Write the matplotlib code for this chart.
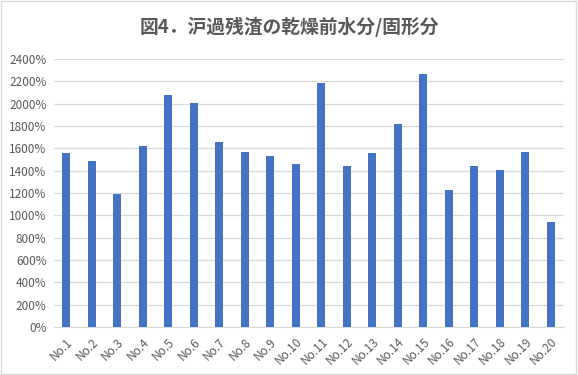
import matplotlib.pyplot as plt
from matplotlib.patches import Rectangle
from matplotlib.ticker import FuncFormatter

plt.rcParams['font.family'] = ['Noto Sans CJK JP', 'DejaVu Sans']

# data
samples = ["No.%d" % i for i in range(1, 21)]
ratio_pct = [1555, 1485, 1190, 1620, 2075, 2005, 1655, 1570, 1530, 1460,
             2185, 1440, 1555, 1815, 2265, 1225, 1440, 1405, 1565, 940]
yticks = list(range(0, 2401, 200))

txt = "#595959"
grid = "#d9d9d9"
bar_color = "#4472c4"

fig = plt.figure(figsize=(5.78, 3.75), dpi=100)
ax = fig.add_axes([53.5 / 578, 48 / 375, 510 / 578, 268 / 375])

x = list(range(len(samples)))
ax.bar(x, ratio_pct, width=0.31, color=bar_color, zorder=3)

ax.set_xlim(-0.5, len(samples) - 0.5)
ax.set_ylim(0, 2400)
ax.set_yticks(yticks)
ax.yaxis.set_major_formatter(FuncFormatter(lambda v, p: "%d%%" % v))
ax.set_xticks(x)
ax.set_xticklabels(samples, rotation=45, ha="right", rotation_mode="anchor")

ax.grid(axis="y", color=grid, linewidth=0.9, zorder=0)
for s in ["top", "right", "left"]:
    ax.spines[s].set_visible(False)
ax.spines["bottom"].set_color(grid)
ax.tick_params(axis="both", length=0, labelsize=8.5, colors=txt)
ax.tick_params(axis="y", pad=5)
ax.tick_params(axis="x", pad=6)

fig.text(0.5, 0.928, "図4．沪過残渣の乾燥前水分/固形分", ha="center", va="center",
         fontsize=13.5, fontweight="bold", color=txt)

# light chart border
fig.patches.append(Rectangle((0.002, 0.003), 0.995, 0.994, transform=fig.transFigure,
                             fill=False, edgecolor="#d9d9d9", linewidth=1))

fig.savefig("out.png", dpi=100)
